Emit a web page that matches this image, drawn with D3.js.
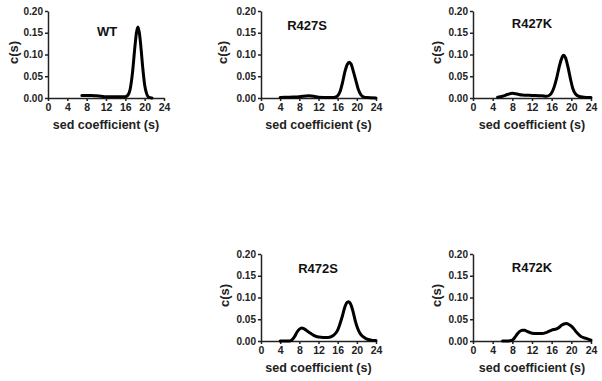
<!DOCTYPE html>
<html>
<head>
<meta charset="utf-8">
<title>c(s) distributions</title>
<script src="https://cdnjs.cloudflare.com/ajax/libs/d3/7.8.5/d3.min.js"></script>
<style>
body { margin: 0; background: #fff; }
svg { display: block; font-family: "Liberation Sans", Arial, sans-serif; }
.axis path, .axis line { stroke: #222; stroke-width: 1.5px; }
.axis text { fill: #222; font-weight: bold; font-size: 10px; }
.axis--x text { font-size: 10.5px; }
.label { fill: #222; font-weight: bold; font-size: 12.5px; text-anchor: middle; }
.ylabel { fill: #222; font-weight: bold; font-size: 13px; text-anchor: middle; }
.title { fill: #111; font-weight: bold; font-size: 13px; text-anchor: middle; }
.trace { fill: none; stroke: #000; stroke-width: 3px; stroke-linejoin: round; stroke-linecap: round; }
</style>
</head>
<body>
<svg id="chart" width="602" height="381"></svg>
<script>
// sedimentation coefficient (s) and c(s)
var wtS = [7, 8, 9, 10, 11, 12, 14, 16, 16.5, 17, 17.5, 18, 18.3, 18.6, 18.9, 19.2, 19.6, 20, 20.4, 20.8, 21.5];
var wtC = [0.006, 0.006, 0.006, 0.005, 0.004, 0.003, 0.003, 0.003, 0.006, 0.02, 0.06, 0.12, 0.15, 0.163, 0.15, 0.12, 0.07, 0.03, 0.01, 0.002, 0];

var r427sS = [4, 6, 8, 10, 11, 12, 14, 15, 15.5, 16, 16.5, 17, 17.5, 18, 18.4, 18.8, 19.3, 19.8, 20.3, 20.8, 21.5, 22, 24];
var r427sC = [0.001, 0.002, 0.003, 0.005, 0.004, 0.002, 0.001, 0.001, 0.002, 0.005, 0.015, 0.035, 0.06, 0.077, 0.082, 0.078, 0.06, 0.04, 0.02, 0.008, 0.002, 0.001, 0];

var r427kS = [5, 6, 7, 8, 9, 10, 12, 14, 15, 15.5, 16, 16.5, 17, 17.5, 18, 18.4, 18.8, 19.3, 19.8, 20.3, 20.8, 21.5, 22.5, 24];
var r427kC = [0.002, 0.004, 0.008, 0.011, 0.009, 0.007, 0.006, 0.005, 0.004, 0.006, 0.012, 0.025, 0.045, 0.07, 0.09, 0.098, 0.093, 0.072, 0.045, 0.022, 0.01, 0.004, 0.002, 0.001];

var r472sS = [4, 6, 6.5, 7, 7.5, 8, 8.5, 9, 10, 11, 12, 13, 14, 15, 15.5, 16, 16.5, 17, 17.5, 18, 18.3, 18.7, 19.2, 19.7, 20.2, 20.7, 21.3, 22, 23, 24];
var r472sC = [0, 0, 0.003, 0.01, 0.02, 0.027, 0.03, 0.028, 0.02, 0.013, 0.009, 0.008, 0.008, 0.012, 0.017, 0.025, 0.04, 0.058, 0.078, 0.089, 0.09, 0.085, 0.068, 0.045, 0.028, 0.017, 0.01, 0.005, 0.002, 0.001];

var r472kS = [6, 7, 8, 8.5, 9, 9.5, 10, 10.5, 11, 12, 13, 14, 15, 16, 17, 17.5, 18, 18.5, 19, 19.5, 20, 20.5, 21, 21.5, 22, 23, 24];
var r472kC = [0, 0, 0.002, 0.008, 0.016, 0.022, 0.025, 0.025, 0.022, 0.018, 0.017, 0.017, 0.02, 0.025, 0.028, 0.031, 0.036, 0.039, 0.04, 0.038, 0.034, 0.028, 0.021, 0.015, 0.01, 0.006, 0.002];

var xTicks = [0, 4, 8, 12, 16, 20, 24];
var yTicks = [0, 0.05, 0.10, 0.15, 0.20];

var panels = [
  {name: "WT",    s: wtS,    c: wtC,    x0: 48,  x1: 164, y0: 11,  y1: 98,  tx: 107, ty: 36,  lx: 14},
  {name: "R427S", s: r427sS, c: r427sC, x0: 261, x1: 376, y0: 11,  y1: 98,  tx: 307, ty: 30,  lx: 223},
  {name: "R427K", s: r427kS, c: r427kC, x0: 473, x1: 591, y0: 11,  y1: 98,  tx: 532, ty: 28,  lx: 437},
  {name: "R472S", s: r472sS, c: r472sC, x0: 261, x1: 376, y0: 254, y1: 341, tx: 318, ty: 273, lx: 225},
  {name: "R472K", s: r472kS, c: r472kC, x0: 473, x1: 591, y0: 254, y1: 341, tx: 532, ty: 272, lx: 437}
];

var svg = d3.select("#chart");

panels.forEach(function(p) {
  var x = d3.scaleLinear().domain([0, 24]).range([p.x0, p.x1]);
  var y = d3.scaleLinear().domain([0, 0.2]).range([p.y1, p.y0]);
  var g = svg.append("g");

  g.append("g")
    .attr("class", "axis axis--y")
    .attr("transform", `translate(${p.x0}, 0)`)
    .call(d3.axisLeft(y).tickValues(yTicks).tickFormat(d3.format(".2f"))
      .tickSize(3).tickSizeOuter(0).tickPadding(2));

  g.append("g")
    .attr("class", "axis axis--x")
    .attr("transform", `translate(0, ${p.y1})`)
    .call(d3.axisBottom(x).tickValues(xTicks).tickFormat(d3.format("d"))
      .tickSize(3).tickSizeOuter(0).tickPadding(3));

  var line = d3.line()
    .x(function(d, i) { return x(p.s[i]); })
    .y(function(d) { return y(d); })
    .curve(d3.curveMonotoneX);

  g.append("path")
    .datum(p.c)
    .attr("class", "trace")
    .attr("d", line);

  g.append("text")
    .attr("class", "title")
    .attr("x", p.tx)
    .attr("y", p.ty)
    .text(p.name);

  g.append("text")
    .attr("class", "label")
    .attr("x", (p.x0 + p.x1) / 2)
    .attr("y", p.y1 + 31)
    .text("sed coefficient (s)");

  g.append("text")
    .attr("class", "ylabel")
    .attr("transform", `translate(${p.lx + 4}, ${(p.y0 + p.y1) / 2 - 2}) rotate(-90)`)
    .text("c(s)");
});
</script>
</body>
</html>
